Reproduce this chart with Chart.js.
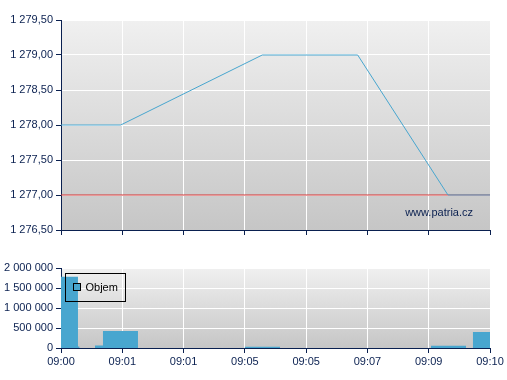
<!DOCTYPE html>
<html>
<head>
<meta charset="utf-8">
<script src="https://cdn.jsdelivr.net/npm/chart.js@4/dist/chart.umd.min.js"></script>
<style>
  html, body { margin: 0; padding: 0; background: #ffffff; }
  body { width: 507px; height: 380px; position: relative; overflow: hidden; }
  #c1, #c2 { position: absolute; left: 0; }
  #c1 { top: 0; }
  #c2 { top: 250px; }
</style>
</head>
<body>
<canvas id="c1" width="507" height="245"></canvas>
<canvas id="c2" width="507" height="130"></canvas>
<script>
// ---- data ----
const timeLabels = ['09:00', '09:01', '09:01', '09:05', '09:05', '09:07', '09:09', '09:10'];
const priceX = [0, 0.974, 3.284, 4.841, 6.314, 7];
const priceY = [1278.0, 1278.0, 1279.0, 1279.0, 1277.0, 1277.0];
const referencePrice = 1277.0;
const volumeStart = [0, 0.277, 0.555, 0.685, 3.0, 6.037, 6.722];
const volumeEnd   = [0.277, 0.30, 0.685, 1.256, 3.573, 6.608, 7.0];
const volumeValue = [1780000, 40000, 60000, 425000, 30000, 55000, 400000];
const volumeLabel = 'Objem';
const watermark = 'www.patria.cz';

// ---- styles ----
const NAVY = '#0a2050';
const BLUE = '#48a6cf';
const FONT = { family: '"Liberation Sans", Arial, sans-serif', size: 11 };
Chart.defaults.font.family = FONT.family;
Chart.defaults.font.size = FONT.size;
Chart.defaults.color = NAVY;

function fmtNum(v, dec) {
  const s = Math.abs(v).toFixed(dec);
  const parts = s.split('.');
  const intPart = parts[0].replace(/\B(?=(\d{3})+(?!\d))/g, ' ');
  return (v < 0 ? '-' : '') + intPart + (dec > 0 ? ',' + parts[1] : '');
}

const bgPlugin = {
  id: 'bgGrad',
  beforeDraw(chart) {
    const a = chart.chartArea, ctx = chart.ctx;
    const g = ctx.createLinearGradient(0, a.top, 0, a.bottom);
    g.addColorStop(0, '#f0f0f0');
    g.addColorStop(1, '#c6c6c6');
    ctx.save();
    ctx.fillStyle = g;
    ctx.fillRect(a.left, a.top, a.right - a.left, a.bottom - a.top);
    ctx.restore();
  }
};

const watermarkPlugin = {
  id: 'watermark',
  afterDatasetsDraw(chart) {
    const a = chart.chartArea, ctx = chart.ctx;
    ctx.save();
    ctx.font = '11px ' + FONT.family;
    ctx.fillStyle = NAVY;
    ctx.textAlign = 'right';
    ctx.textBaseline = 'middle';
    ctx.fillText(watermark, a.right - 17, a.bottom - 17);
    ctx.restore();
  }
};

const legendPlugin = {
  id: 'boxLegend',
  afterDraw(chart) {
    const a = chart.chartArea, ctx = chart.ctx;
    const x = a.left + 4.5, y = a.top + 5.5, w = 60, h = 28;
    ctx.save();
    ctx.strokeStyle = '#000000';
    ctx.lineWidth = 1;
    ctx.strokeRect(x, y, w, h);
    const sx = x + 8, sy = y + 10;
    ctx.fillStyle = BLUE;
    ctx.fillRect(sx, sy, 7, 7);
    ctx.strokeRect(sx, sy, 7, 7);
    ctx.font = '11px ' + FONT.family;
    ctx.fillStyle = '#000000';
    ctx.textAlign = 'left';
    ctx.textBaseline = 'middle';
    ctx.fillText(chart.data.datasets[0].label, sx + 12, sy + 4);
    ctx.restore();
  }
};

function xScale(showLabels, height) {
  return {
    type: 'linear', min: 0, max: timeLabels.length - 1,
    afterFit(s) { s.height = height; },
    afterBuildTicks(s) { s.ticks = timeLabels.map((_, i) => ({ value: i })); },
    ticks: {
      display: showLabels, autoSkip: false, maxRotation: 0, padding: 2,
      color: NAVY,
      callback: (v) => timeLabels[Math.round(v)]
    },
    grid: { color: '#ffffff', lineWidth: 1, tickColor: NAVY, tickLength: 5, drawTicks: true },
    border: { color: NAVY, width: 1 }
  };
}

// ---- price chart ----
new Chart(document.getElementById('c1'), {
  type: 'line',
  data: {
    datasets: [
      {
        label: 'Cena',
        data: priceX.map((x, i) => ({ x: x, y: priceY[i] })),
        borderColor: BLUE, borderWidth: 1, pointRadius: 0, tension: 0, fill: false, order: 0
      },
      {
        label: 'Ref',
        data: [{ x: 0, y: referencePrice }, { x: timeLabels.length - 1, y: referencePrice }],
        borderColor: '#d23232', borderWidth: 1, pointRadius: 0, tension: 0, fill: false, order: 1
      }
    ]
  },
  options: {
    responsive: false, animation: false,
    layout: { padding: { top: 20, right: 17, left: 0, bottom: 0 } },
    plugins: { legend: { display: false }, tooltip: { enabled: false } },
    scales: {
      x: xScale(false, 15),
      y: {
        min: 1276.5, max: 1279.5,
        afterFit(s) { s.width = 61; },
        ticks: { stepSize: 0.5, padding: 3, color: NAVY, callback: (v) => fmtNum(v, 2) },
        grid: { color: '#ffffff', lineWidth: 1, tickColor: NAVY, tickLength: 5 },
        border: { color: NAVY, width: 1 }
      }
    }
  },
  plugins: [bgPlugin, watermarkPlugin]
});

// ---- volume chart ----
const volPts = [];
volumeStart.forEach((s, i) => {
  volPts.push({ x: s, y: 0 }, { x: s, y: volumeValue[i] },
              { x: volumeEnd[i], y: volumeValue[i] }, { x: volumeEnd[i], y: 0 });
});

new Chart(document.getElementById('c2'), {
  type: 'line',
  data: {
    datasets: [{
      label: volumeLabel,
      data: volPts,
      borderWidth: 0, borderColor: 'rgba(0,0,0,0)', backgroundColor: BLUE,
      pointRadius: 0, tension: 0, fill: 'origin'
    }]
  },
  options: {
    responsive: false, animation: false,
    layout: { padding: { top: 18, right: 17, left: 0, bottom: 0 } },
    plugins: { legend: { display: false }, tooltip: { enabled: false } },
    scales: {
      x: xScale(true, 32),
      y: {
        min: 0, max: 2000000,
        afterFit(s) { s.width = 61; },
        ticks: { stepSize: 500000, padding: 3, color: NAVY, callback: (v) => fmtNum(v, 0) },
        grid: { color: '#ffffff', lineWidth: 1, tickColor: NAVY, tickLength: 5 },
        border: { color: NAVY, width: 1 }
      }
    }
  },
  plugins: [bgPlugin, legendPlugin]
});
</script>
</body>
</html>
